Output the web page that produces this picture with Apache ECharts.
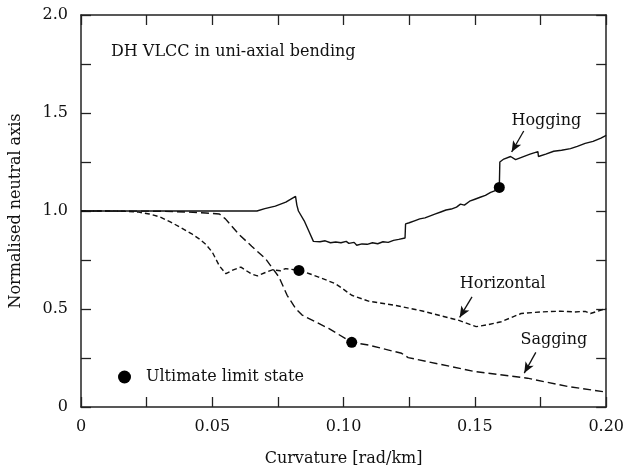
<!DOCTYPE html>
<html>
<head>
<meta charset="utf-8">
<script src="https://cdn.jsdelivr.net/npm/echarts@6/dist/echarts.min.js"></script>
<style>
html,body{margin:0;padding:0;background:#fff;}
#c{width:627px;height:472px;}
</style>
</head>
<body>
<div id="c"></div>
<script>
// ---- data (curvature [rad/km], normalised neutral axis) ----
const hogging = [
  [0,1.0],[0.067,1.0],[0.070,1.012],[0.074,1.025],[0.078,1.045],[0.0817,1.075],
  [0.0822,1.03],[0.0828,1.0],[0.085,0.95],[0.087,0.89],[0.0885,0.845],[0.091,0.843],
  [0.093,0.848],[0.095,0.838],[0.097,0.842],[0.099,0.838],[0.101,0.845],[0.102,0.835],
  [0.104,0.84],[0.105,0.825],[0.107,0.832],[0.109,0.83],[0.111,0.838],[0.113,0.833],
  [0.115,0.843],[0.117,0.84],[0.119,0.85],[0.121,0.855],[0.1234,0.862],[0.1236,0.934],
  [0.125,0.94],[0.127,0.95],[0.129,0.96],[0.131,0.965],[0.133,0.975],[0.135,0.985],
  [0.137,0.995],[0.139,1.005],[0.141,1.01],[0.143,1.02],[0.1445,1.035],[0.146,1.03],
  [0.148,1.05],[0.150,1.06],[0.152,1.07],[0.154,1.08],[0.156,1.095],[0.1575,1.103],
  [0.1593,1.12],[0.1595,1.25],[0.161,1.265],[0.1636,1.278],[0.1655,1.262],[0.168,1.275],
  [0.171,1.29],[0.174,1.303],[0.1742,1.278],[0.177,1.29],[0.180,1.305],[0.183,1.31],
  [0.1864,1.318],[0.189,1.33],[0.192,1.345],[0.195,1.355],[0.198,1.372],[0.200,1.386]
];
const horizontal = [
  [0,1.0],[0.012,1.0],[0.018,0.998],[0.022,0.994],[0.026,0.985],[0.030,0.97],
  [0.034,0.945],[0.038,0.915],[0.042,0.885],[0.045,0.858],[0.0475,0.83],[0.050,0.79],
  [0.0527,0.72],[0.0552,0.68],[0.058,0.70],[0.0609,0.714],[0.063,0.695],[0.065,0.678],
  [0.0672,0.669],[0.070,0.685],[0.0729,0.70],[0.076,0.695],[0.0779,0.706],[0.083,0.697],
  [0.087,0.68],[0.0905,0.663],[0.0969,0.629],[0.100,0.60],[0.1031,0.57],[0.1095,0.54],
  [0.1196,0.519],[0.130,0.49],[0.1436,0.443],[0.1505,0.41],[0.155,0.42],[0.160,0.435],
  [0.1676,0.477],[0.175,0.485],[0.1827,0.489],[0.188,0.485],[0.192,0.488],[0.194,0.477],
  [0.200,0.503]
];
const sagging = [
  [0,1.0],[0.030,0.999],[0.040,0.995],[0.0475,0.99],[0.0527,0.985],[0.055,0.96],
  [0.060,0.883],[0.065,0.82],[0.0703,0.756],[0.0754,0.663],[0.0785,0.57],[0.0817,0.503],
  [0.0842,0.469],[0.0943,0.401],[0.1031,0.33],[0.1095,0.316],[0.1221,0.274],[0.1246,0.252],
  [0.1499,0.181],[0.170,0.147],[0.1852,0.105],[0.200,0.076]
];
const ultimate = [[0.1593,1.12],[0.083,0.697],[0.1031,0.33]];
const xTickLabels = ['0','0.05','0.10','0.15','0.20'];
const yTickLabels = ['0','0.5','1.0','1.5','2.0'];
const curveNames = ['Hogging','Horizontal','Sagging'];

// annotation placement (data coords)
const annText = [[0.1772,1.462],[0.1606,0.627],[0.1801,0.343]];
const annArrows = [
  [[0.1686,1.408],[0.1640,1.301]],
  [[0.1489,0.562],[0.1442,0.457]],
  [[0.1732,0.279],[0.1688,0.173]]
];

const FONT = 'DejaVu Serif';
const INK = '#111';
const chart = echarts.init(document.getElementById('c'), null, {renderer:'canvas'});

function xFmt(v){
  const k = Math.round(v*1000);
  if (k % 50 !== 0) return '';
  return xTickLabels[k/50];
}
function yFmt(v){
  const k = Math.round(v*100);
  if (k % 50 !== 0) return '';
  return yTickLabels[k/50];
}
const axLine = {show:true, onZero:false, lineStyle:{color:'#222', width:1.5}};
const axTick = {show:true, inside:true, length:10, lineStyle:{color:'#222', width:1.3}};

chart.setOption({
  animation:false,
  backgroundColor:'#fff',
  title:{
    text:'DH VLCC in uni-axial bending', left:106, top:39,
    textStyle:{fontFamily:FONT, fontWeight:'normal', fontSize:16, color:INK}
  },
  legend:{
    data:['Ultimate limit state'], left:113, top:364, icon:'circle',
    itemWidth:13, itemHeight:13,
    textStyle:{fontFamily:FONT, fontSize:16, color:INK, padding:[0,0,0,10]}
  },
  grid:{left:81, right:18, top:15, bottom:63},
  xAxis:[
    {type:'value', min:0, max:0.2, interval:0.025, position:'bottom',
     name:'Curvature [rad/km]', nameLocation:'middle', nameGap:44,
     nameTextStyle:{fontFamily:FONT, fontSize:16, color:INK},
     axisLine:axLine, axisTick:axTick, splitLine:{show:false},
     axisLabel:{formatter:xFmt, fontFamily:FONT, fontSize:16, color:INK, margin:12}},
    {type:'value', min:0, max:0.2, interval:0.025, position:'top',
     axisLine:axLine, axisTick:axTick, splitLine:{show:false}, axisLabel:{show:false}}
  ],
  yAxis:[
    {type:'value', min:0, max:2, interval:0.25, position:'left',
     name:'Normalised neutral axis', nameLocation:'middle', nameGap:57,
     nameTextStyle:{fontFamily:FONT, fontSize:16, color:INK},
     axisLine:axLine, axisTick:axTick, splitLine:{show:false},
     axisLabel:{formatter:yFmt, fontFamily:FONT, fontSize:16, color:INK, margin:13}},
    {type:'value', min:0, max:2, interval:0.25, position:'right',
     axisLine:axLine, axisTick:axTick, splitLine:{show:false}, axisLabel:{show:false}}
  ],
  series:[
    {name:curveNames[0], type:'line', data:hogging, showSymbol:false, symbol:'none',
     lineStyle:{color:'#111', width:1.4, type:'solid'}, z:3},
    {name:curveNames[1], type:'line', data:horizontal, showSymbol:false, symbol:'none',
     lineStyle:{color:'#111', width:1.4, type:[5,3]}, z:3},
    {name:curveNames[2], type:'line', data:sagging, showSymbol:false, symbol:'none',
     lineStyle:{color:'#111', width:1.4, type:[8,4]}, z:3},
    {name:'Ultimate limit state', type:'scatter', data:ultimate, symbol:'circle',
     symbolSize:11, itemStyle:{color:'#000', opacity:1}, z:5},
    {name:'annotations', type:'scatter', symbolSize:0,
     data:annText.map((p,i)=>({value:p, name:curveNames[i]})),
     itemStyle:{opacity:1},
     label:{show:true, position:'inside', formatter:p=>p.name,
            fontFamily:FONT, fontSize:16, color:INK, textBorderWidth:0, opacity:1},
     markLine:{silent:true, symbol:['none','arrow'], symbolSize:[7,11],
       label:{show:false},
       lineStyle:{color:'#111', width:1.3, type:'solid', opacity:1},
       data:annArrows.map(a=>[{coord:a[0]},{coord:a[1]}])},
     z:4}
  ]
});
</script>
</body>
</html>
